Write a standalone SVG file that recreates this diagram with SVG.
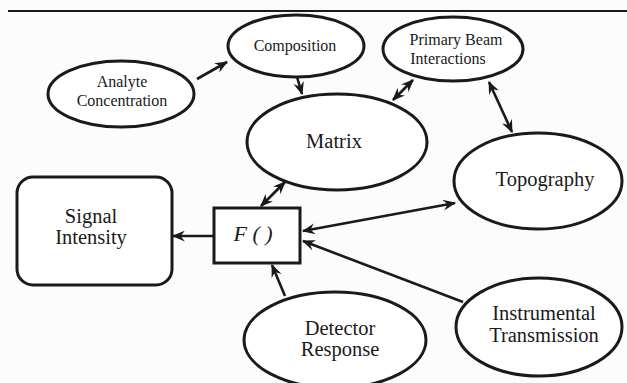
<svg xmlns="http://www.w3.org/2000/svg" width="627" height="383" viewBox="0 0 627 383">
<defs>
<marker id="ah" viewBox="0 0 12 10" refX="11" refY="5" markerWidth="13" markerHeight="11" markerUnits="userSpaceOnUse" orient="auto-start-reverse">
<path d="M0,0 L12,5 L0,10 L4,5 z" fill="#1a1a1a"/>
</marker>
</defs>
<style>
.n{fill:#fff;stroke:#1a1a1a;stroke-width:3}
.t{font-family:"Liberation Serif","Times New Roman",serif;fill:#1a1a1a;text-anchor:middle}
.s{font-size:16px}
.l{font-size:20.5px}
.c{stroke:#1a1a1a;stroke-width:2.6;fill:none}
</style>
<rect width="627" height="383" fill="#fcfcfc"/>
<line x1="8" y1="11" x2="627" y2="11" stroke="#1a1a1a" stroke-width="2"/>
<g id="connectors">
<line class="c" x1="197" y1="79" x2="227" y2="62" marker-end="url(#ah)"/>
<line class="c" x1="297" y1="77" x2="302" y2="94" marker-end="url(#ah)"/>
<line class="c" x1="413" y1="80" x2="393" y2="100" marker-start="url(#ah)" marker-end="url(#ah)"/>
<line class="c" x1="489" y1="82" x2="512" y2="132" stroke-width="2" marker-start="url(#ah)" marker-end="url(#ah)"/>
<line class="c" x1="285" y1="182" x2="261" y2="206" marker-start="url(#ah)" marker-end="url(#ah)"/>
<line class="c" x1="303" y1="231" x2="455" y2="203" marker-start="url(#ah)" marker-end="url(#ah)"/>
<line class="c" x1="463" y1="302" x2="303" y2="241" stroke-width="3.2" marker-end="url(#ah)"/>
<line class="c" x1="285" y1="296" x2="272" y2="265" stroke-width="3" marker-end="url(#ah)"/>
<line class="c" x1="214" y1="236" x2="173" y2="236" marker-end="url(#ah)"/>
</g>
<g id="analyte">
<ellipse class="n" cx="121" cy="94" rx="73" ry="33"/>
<text class="t s" x="122" y="87">Analyte</text>
<text class="t s" x="122" y="106">Concentration</text>
</g>
<g id="composition">
<ellipse class="n" cx="296" cy="46" rx="68" ry="31"/>
<text class="t s" x="295" y="51">Composition</text>
</g>
<g id="primary-beam">
<ellipse class="n" cx="453" cy="49" rx="70" ry="32"/>
<text class="t s" x="456" y="45">Primary Beam</text>
<text class="t s" x="448" y="64">Interactions</text>
</g>
<g id="matrix">
<ellipse class="n" cx="337" cy="142" rx="90" ry="48"/>
<text class="t l" x="334" y="148">Matrix</text>
</g>
<g id="topography">
<ellipse class="n" cx="538" cy="181" rx="84" ry="48"/>
<text class="t l" x="545" y="186">Topography</text>
</g>
<g id="signal-intensity">
<rect class="n" x="17" y="177" width="155" height="108" rx="16"/>
<text class="t l" x="91" y="223">Signal</text>
<text class="t l" x="91" y="244">Intensity</text>
</g>
<g id="function">
<rect class="n" x="214" y="208" width="86" height="55"/>
<text class="t" x="253" y="241" font-size="22" font-style="italic">F ( )</text>
</g>
<g id="detector">
<ellipse class="n" cx="335" cy="340" rx="91" ry="48"/>
<text class="t l" x="340" y="335">Detector</text>
<text class="t l" x="340" y="356">Response</text>
</g>
<g id="instrumental">
<ellipse class="n" cx="539" cy="327" rx="83" ry="49"/>
<text class="t l" x="544" y="320">Instrumental</text>
<text class="t l" x="544" y="342">Transmission</text>
</g>
</svg>
